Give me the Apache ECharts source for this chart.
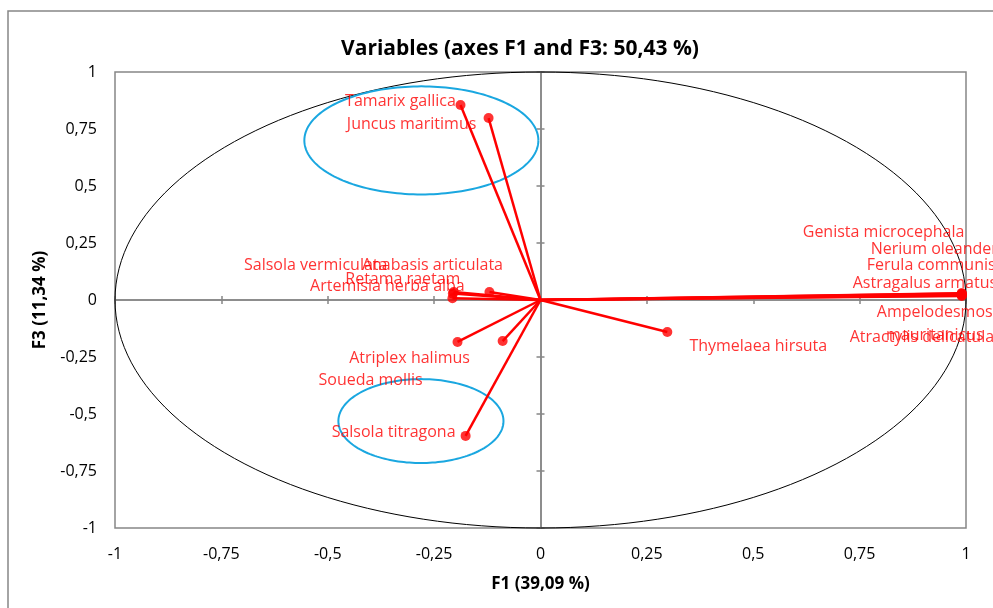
<!DOCTYPE html>
<html>
<head>
<meta charset="utf-8">
<script src="https://cdn.jsdelivr.net/npm/echarts@6/dist/echarts.min.js"></script>
<style>
  html, body { margin: 0; padding: 0; background: #fff; }
  #chart { width: 993px; height: 608px; }
</style>
</head>
<body>
<div id="chart"></div>
<script>
// variables: coordinates on F1 and F3
const names = [
  'Tamarix gallica', 'Juncus maritimus', 'Salsola vermiculata', 'Anabasis articulata',
  'Retama raetam', 'Artemisia herba alba', 'Atriplex halimus', 'Soueda mollis',
  'Salsola titragona', 'Thymelaea hirsuta', 'Genista microcephala', 'Nerium oleander',
  'Ferula communis', 'Astragalus armatus', 'Ampelodesmos mauritanicus', 'Atractylis delicatula'
]
const f1 = [-0.188, -0.122, -0.204, -0.120, -0.206, -0.207, -0.195, -0.089, -0.176, 0.298, 0.990, 0.990, 0.990, 0.990, 0.990, 0.990]
const f3 = [0.855, 0.798, 0.035, 0.035, 0.028, 0.008, -0.184, -0.180, -0.596, -0.140, 0.030, 0.028, 0.025, 0.022, 0.020, 0.018]

// blue group ellipses (centre and radii, axis units)
const groupCx = [-0.280, -0.281]
const groupCy = [0.700, -0.531]
const groupRx = [0.275, 0.194]
const groupRy = [0.237, 0.184]

// label placement: [align, dx, dy] in pixels from the point
const labelPlace = {
  'Tamarix gallica': ['center', -60, -4],
  'Juncus maritimus': ['center', -77, 6],
  'Salsola vermiculata': ['center', -138, -27],
  'Anabasis articulata': ['center', -57, -27],
  'Retama raetam': ['center', -50, -14],
  'Artemisia herba alba': ['center', -65, -12],
  'Atriplex halimus': ['center', -48, 16],
  'Soueda mollis': ['center', -132, 39],
  'Salsola titragona': ['center', -72, -3],
  'Thymelaea hirsuta': ['center', 91, 15],
  'Genista microcephala': ['left', -159, -61],
  'Nerium oleander': ['left', -91, -44],
  'Ferula communis': ['left', -95, -29],
  'Astragalus armatus': ['left', -109, -12],
  'Ampelodesmos mauritanicus': ['center', -27, 28],
  'Atractylis delicatula': ['left', -112, 42]
}

const FONT = 'Open Sans'
const GRAY = '#868686'
const fmt = v => String(v).replace('.', ',')

function ellipseItem (params, api) {
  const c = api.coord([api.value(0), api.value(1)])
  const s = api.size([api.value(2), api.value(3)])
  const pts = []
  for (let i = 0; i <= 180; i++) {
    const a = i / 180 * Math.PI * 2
    pts.push([c[0] + s[0] * Math.cos(a), c[1] + s[1] * Math.sin(a)])
  }
  return {
    type: 'polyline',
    shape: { points: pts },
    style: { fill: 'none', stroke: api.visual('color'), lineWidth: params.seriesName === 'circle' ? 1 : 2 }
  }
}

const pointData = names.map((n, i) => {
  const p = labelPlace[n]
  return {
    name: n,
    value: [f1[i], f3[i]],
    label: {
      align: p[0],
      offset: [p[1], p[2]],
      formatter: n === 'Ampelodesmos mauritanicus' ? 'Ampelodesmos\nmauritanicus' : n
    }
  }
})

const baseAxis = { type: 'value', min: -1, max: 1, interval: 0.25, splitLine: { show: false } }
const zeroAxis = (pos) => Object.assign({}, baseAxis, {
  position: pos,
  axisLine: { show: true, onZero: true, onZeroAxisIndex: 0, lineStyle: { color: GRAY, width: 1.5 } },
  axisTick: { show: true, length: 4, lineStyle: { color: GRAY, width: 1.5 } },
  axisLabel: { show: false }
})

const chart = echarts.init(document.getElementById('chart'))
chart.setOption({
  animation: false,
  title: {
    text: 'Variables (axes F1 and F3: 50,43 %)',
    left: 515,
    top: 34,
    textAlign: 'center',
    textStyle: { fontFamily: FONT, fontSize: 21, fontWeight: 'bold', color: '#000' }
  },
  graphic: [{
    type: 'rect',
    shape: { x: 8, y: 11, width: 1000, height: 700 },
    style: { fill: 'none', stroke: GRAY, lineWidth: 1.5 },
    silent: true
  }],
  grid: {
    left: 115, right: 27, top: 72, bottom: 80,
    show: true, borderColor: GRAY, borderWidth: 1.5, backgroundColor: 'transparent'
  },
  xAxis: [
    zeroAxis('bottom'),
    zeroAxis('top'),
    Object.assign({}, baseAxis, {
      position: 'bottom',
      axisLine: { show: false, onZero: false },
      axisTick: { show: false },
      axisLabel: { margin: 18, formatter: fmt, fontFamily: FONT, fontSize: 16, color: '#000' },
      name: 'F1 (39,09 %)',
      nameLocation: 'middle',
      nameGap: 48,
      nameTextStyle: { fontFamily: FONT, fontSize: 17, fontWeight: 'bold', color: '#000' }
    })
  ],
  yAxis: [
    zeroAxis('left'),
    zeroAxis('right'),
    Object.assign({}, baseAxis, {
      position: 'left',
      axisLine: { show: false, onZero: false },
      axisTick: { show: false },
      axisLabel: { margin: 18, formatter: fmt, fontFamily: FONT, fontSize: 16, color: '#000' },
      name: 'F3 (11,34 %)',
      nameLocation: 'middle',
      nameGap: 66,
      nameTextStyle: { fontFamily: FONT, fontSize: 17, fontWeight: 'bold', color: '#000' }
    })
  ],
  series: [
    {
      name: 'circle',
      type: 'custom',
      renderItem: ellipseItem,
      itemStyle: { color: '#000' },
      data: [[0, 0, 1, 1]],
      silent: true,
      z: 1
    },
    {
      name: 'groups',
      type: 'custom',
      renderItem: ellipseItem,
      itemStyle: { color: '#1aa7e0' },
      data: groupCx.map((c, i) => [c, groupCy[i], groupRx[i], groupRy[i]]),
      silent: true,
      z: 2
    },
    {
      name: 'vectors',
      type: 'custom',
      renderItem: function (params, api) {
        const o = api.coord([0, 0])
        const p = api.coord([api.value(0), api.value(1)])
        return {
          type: 'line',
          shape: { x1: o[0], y1: o[1], x2: p[0], y2: p[1] },
          style: { stroke: '#ff0000', lineWidth: 2.5 }
        }
      },
      data: f1.map((x, i) => [x, f3[i]]),
      silent: true,
      z: 3
    },
    {
      name: 'points',
      type: 'scatter',
      symbolSize: 10,
      itemStyle: { color: '#ff0000' },
      label: {
        show: true,
        position: 'inside',
        verticalAlign: 'middle',
        color: '#ff0000',
        fontFamily: FONT,
        fontSize: 16,
        lineHeight: 23
      },
      data: pointData,
      z: 4
    }
  ]
})
</script>
</body>
</html>
